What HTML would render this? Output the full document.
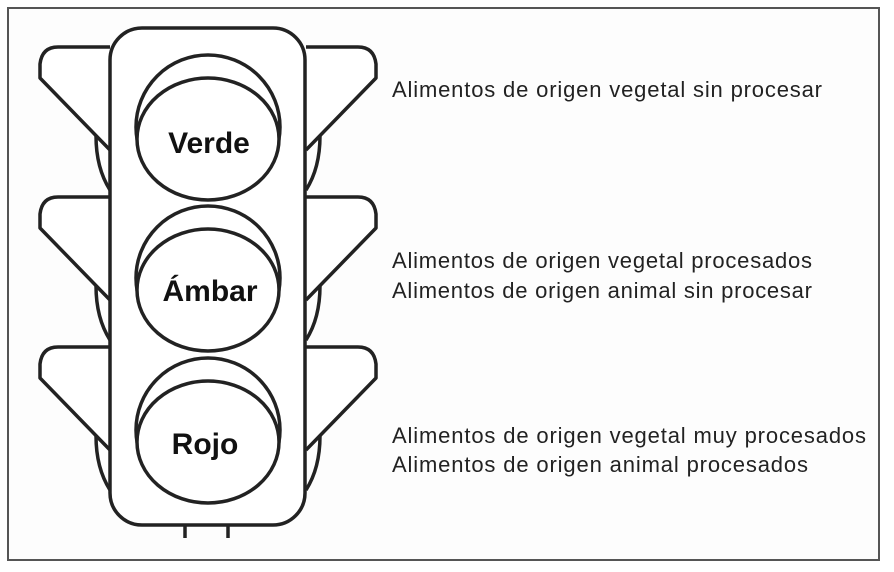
<!DOCTYPE html>
<html><head><meta charset="utf-8"><style>
html,body{margin:0;padding:0;background:#fff}
svg{display:block}
</style></head><body>
<svg width="894" height="572" viewBox="0 0 894 572" xmlns="http://www.w3.org/2000/svg">
<rect x="8" y="8" width="871" height="552" fill="#fdfdfd" stroke="#555" stroke-width="2"/>
<defs>
<g id="wings" fill="#fff" stroke="#222" stroke-width="3.5" stroke-linejoin="round">
  <path d="M96,136 Q96,168 110,190" fill="none"/>
  <path d="M320,136 Q320,168 306,190" fill="none"/>
  <path d="M110,47 H58 Q42,47 40,64 L40,78 L110,150"/>
  <path d="M306,47 H358 Q374,47 376,64 L376,78 L306,150"/>
</g>
<g id="light" fill="none" stroke="#222" stroke-width="3.5">
  <circle cx="208" cy="127" r="72"/>
  <ellipse cx="208" cy="139" rx="71" ry="61" fill="#fff"/>
</g>
</defs>
<use href="#wings"/>
<use href="#wings" y="150"/>
<use href="#wings" y="300"/>
<line x1="185" y1="525" x2="185" y2="538" stroke="#222" stroke-width="3.5"/>
<line x1="228" y1="525" x2="228" y2="538" stroke="#222" stroke-width="3.5"/>
<rect x="110" y="28" width="195" height="497" rx="32" fill="#fff" stroke="#222" stroke-width="3.5"/>
<use href="#light"/>
<use href="#light" y="151"/>
<use href="#light" y="303"/>
<g font-family="Liberation Sans, sans-serif" font-weight="bold" font-size="30" text-anchor="middle" fill="#111">
<text x="209" y="153">Verde</text>
<text x="210" y="301">Ámbar</text>
<text x="205" y="454">Rojo</text>
</g>
<g font-family="Liberation Sans, sans-serif" font-size="22" fill="#222">
<text x="392" y="97" textLength="430" lengthAdjust="spacing">Alimentos de origen vegetal sin procesar</text>
<text x="392" y="268" textLength="420" lengthAdjust="spacing">Alimentos de origen vegetal procesados</text>
<text x="392" y="298" textLength="420" lengthAdjust="spacing">Alimentos de origen animal sin procesar</text>
<text x="392" y="443" textLength="474" lengthAdjust="spacing">Alimentos de origen vegetal muy procesados</text>
<text x="392" y="472" textLength="416" lengthAdjust="spacing">Alimentos de origen animal procesados</text>
</g>
</svg>
</body></html>
